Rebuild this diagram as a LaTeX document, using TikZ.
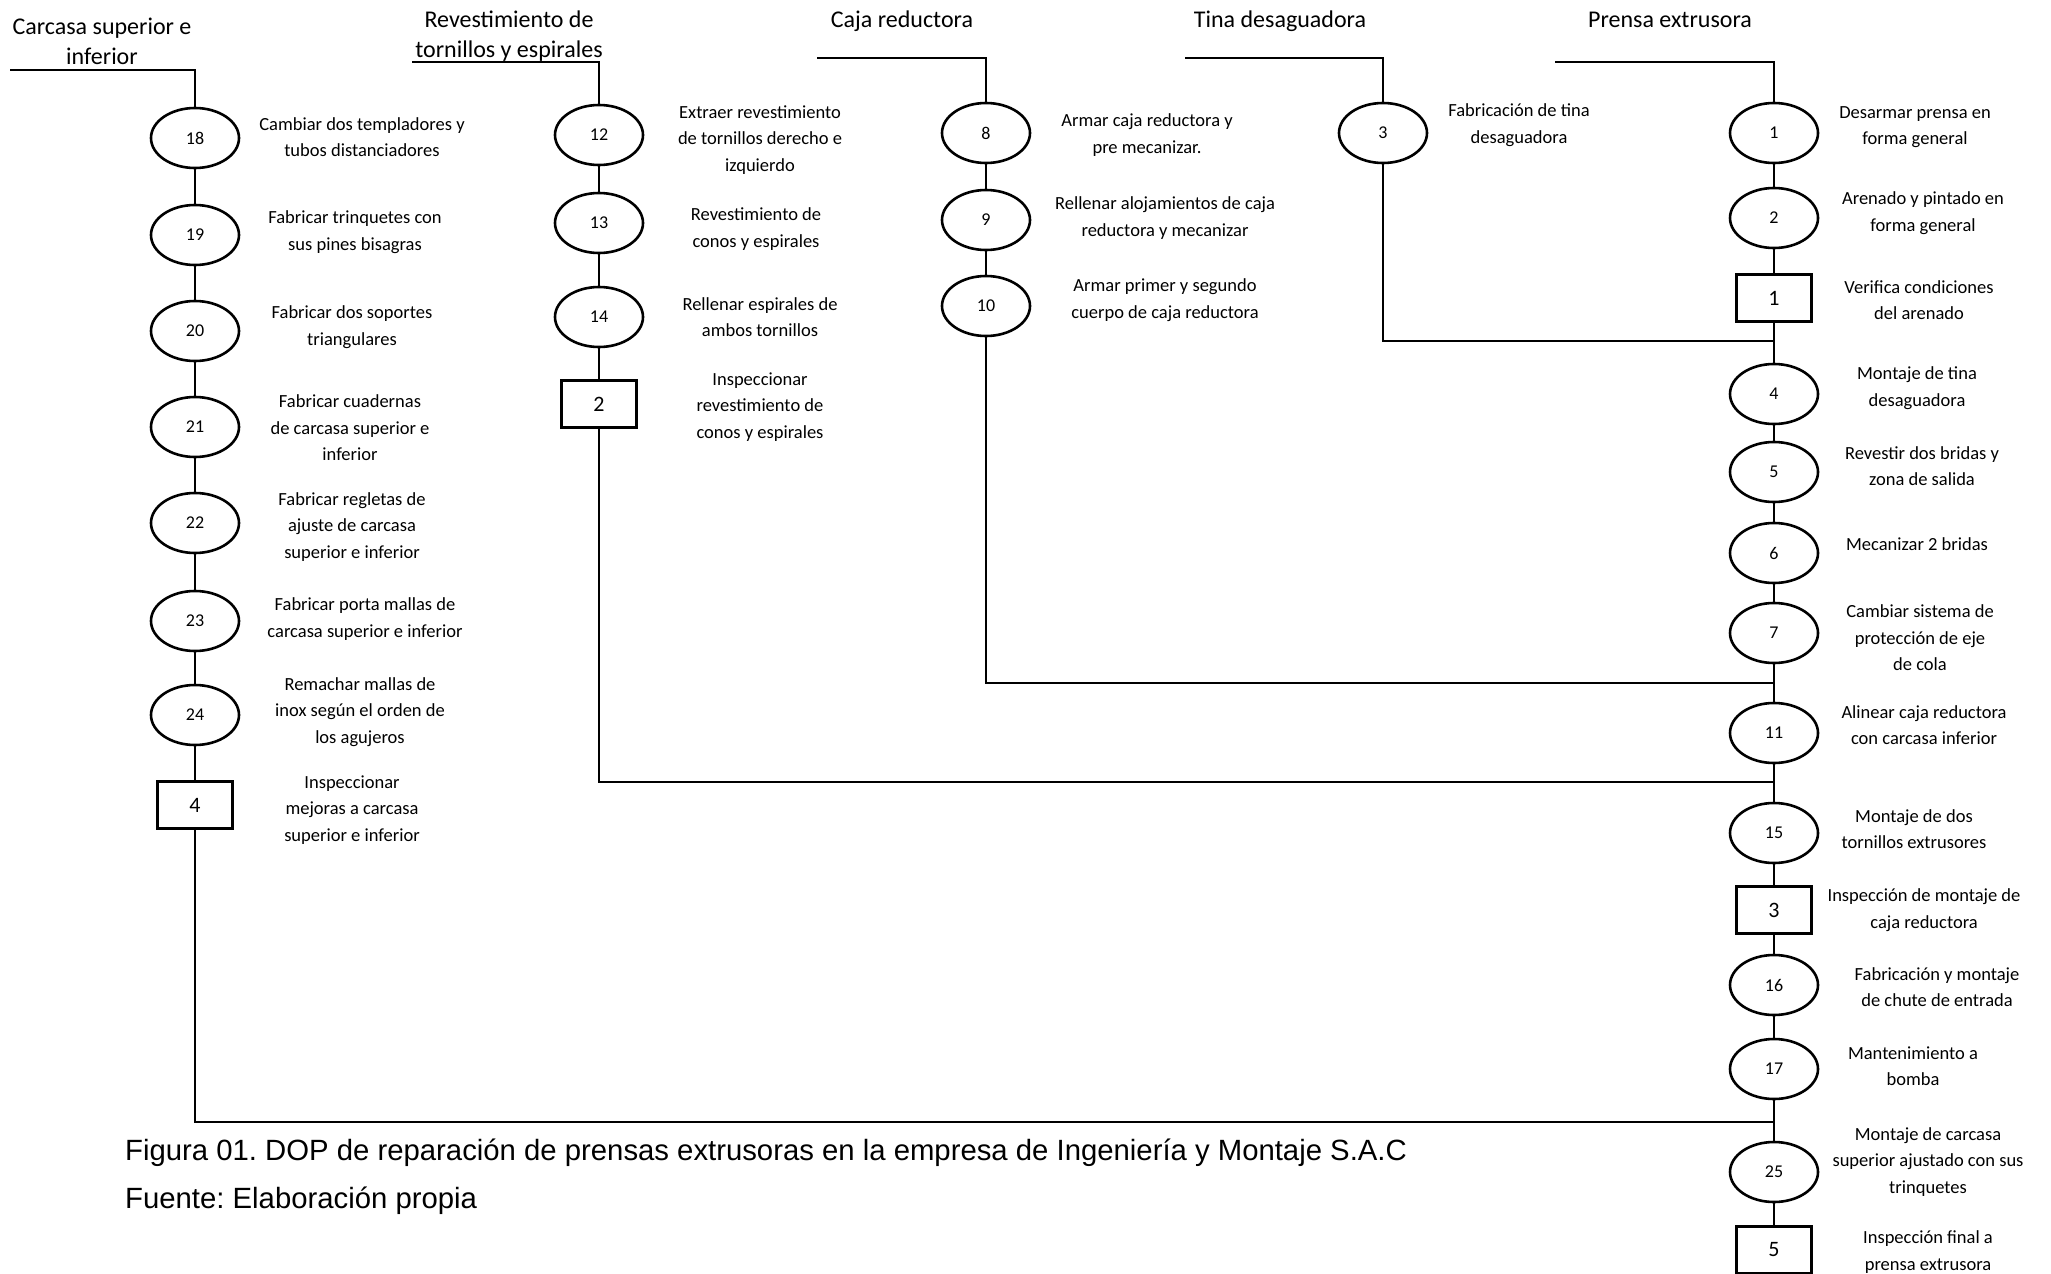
\documentclass[tikz,border=0pt]{standalone}
\usepackage{fontspec}
\setmainfont{Carlito}
\newfontfamily\capfont{Liberation Sans}
\usetikzlibrary{shapes.geometric,positioning}

\tikzset{
  op/.style={draw, ellipse, line width=2.6pt, minimum width=88pt, minimum height=60pt, inner sep=0pt, font=\fontsize{18}{22}\selectfont},
  insp/.style={draw, rectangle, line width=2.6pt, minimum width=75pt, minimum height=47pt, inner sep=0pt, font=\fontsize{22}{26}\selectfont},
  txt/.style={align=center, inner sep=0pt, font=\fontsize{18.5}{26.5}\selectfont},
  hdr/.style={align=center, inner sep=0pt, font=\fontsize{24}{30}\selectfont},
  wire/.style={line width=2.6pt},
  captxt/.style={anchor=base west, inner sep=0pt, font=\capfont\frenchspacing\fontsize{29.3}{34}\selectfont}
}

\begin{document}
\begin{tikzpicture}[x=1pt, y=-1pt]
    \useasboundingbox (0,0) rectangle (2051,1274);

    % headers
    \node[hdr] (ha) at (102,41) {Carcasa superior e\\inferior};
    \node[hdr] (hb) at (509,36) {Revestimiento de\\tornillos y espirales};
    \node[hdr] (hc) at (902,21) {Caja reductora};
    \node[hdr] (hd) at (1280,21) {Tina desaguadora};
    \node[hdr] (he) at (1670,20) {Prensa extrusora};

    % operations
    \foreach \n/\x/\y/\lx/\ly/\t in {
        18/195/138/362/137/{Cambiar dos templadores y\\tubos distanciadores},
        19/195/235/355/232/{Fabricar trinquetes con\\sus pines bisagras},
        20/195/331/352/327/{Fabricar dos soportes\\triangulares},
        21/195/427/350/428/{Fabricar cuadernas\\de carcasa superior e\\inferior},
        22/195/523/352/527/{Fabricar regletas de\\ajuste de carcasa\\superior e inferior},
        23/195/621/365/619/{Fabricar porta mallas de\\carcasa superior e inferior},
        24/195/715/360/712/{Remachar mallas de\\inox según el orden de\\los agujeros},
        12/599/135/760/140/{Extraer revestimiento\\de tornillos derecho e\\izquierdo},
        13/599/223/756/229/{Revestimiento de\\conos y espirales},
        14/599/317/760/317/{Rellenar espirales de\\ambos tornillos},
        8/986/133/1147/135/{Armar caja reductora y\\pre mecanizar.},
        9/986/220/1165/218/{Rellenar alojamientos de caja\\reductora y mecanizar},
        10/986/306/1165/300/{Armar primer y segundo\\cuerpo de caja reductora},
        3/1383/133/1519/125/{Fabricación de tina\\desaguadora},
        1/1774/133/1915/127/{Desarmar prensa en\\forma general},
        2/1774/218/1923/213/{Arenado y pintado en\\forma general},
        4/1774/394/1917/388/{Montaje de tina\\desaguadora},
        5/1774/472/1922/466/{Revestir dos bridas y\\zona de salida},
        6/1774/553/1917/544/{Mecanizar 2 bridas},
        7/1774/633/1920/638/{Cambiar sistema de\\protección de eje\\de cola},
        11/1774/733/1924/725/{Alinear caja reductora\\con carcasa inferior},
        15/1774/833/1914/829/{Montaje de dos\\tornillos extrusores},
        16/1774/985/1937/987/{Fabricación y montaje\\de chute de entrada},
        17/1774/1069/1913/1066/{Mantenimiento a\\bomba},
        25/1774/1172/1928/1162/{Montaje de carcasa\\superior ajustado con sus\\trinquetes}}
    {
        \node[op] (o\n) at (\x,\y) {\n};
        \node[txt] (t\n) at (\lx,\ly) {\t};
    }

    % inspections
    \foreach \n/\x/\y/\lx/\ly/\t in {
        1/1774/298/1919/300/{Verifica condiciones\\del arenado},
        2/599/404/760/407/{Inspeccionar\\revestimiento de\\conos y espirales},
        3/1774/910/1924/910/{Inspección de montaje de\\caja reductora},
        4/195/805/352/810/{Inspeccionar\\mejoras a carcasa\\superior e inferior},
        5/1774/1250/1928/1252/{Inspección final a\\prensa extrusora}}
    {
        \node[insp] (i\n) at (\x,\y) {\n};
        \node[txt] (ti\n) at (\lx,\ly) {\t};
    }

    % chains
    \foreach \u/\v in {o18/o19, o19/o20, o20/o21, o21/o22, o22/o23, o23/o24, o24/i4,
        o12/o13, o13/o14, o14/i2, o8/o9, o9/o10,
        o1/o2, o2/i1, i1/o4, o4/o5, o5/o6, o6/o7, o7/o11, o11/o15, o15/i3,
        i3/o16, o16/o17, o17/o25, o25/i5}
        \draw[wire] (\u) -- (\v);

    % header lines
    \coordinate (ka) at (10,70);
    \coordinate (kb) at (412,62);
    \coordinate (kc) at (817,58);
    \coordinate (kd) at (1185,58);
    \coordinate (ke) at (1555,62);
    \draw[wire] (ka) -| (o18);
    \draw[wire] (kb) -| (o12);
    \draw[wire] (kc) -| (o8);
    \draw[wire] (kd) -| (o3);
    \draw[wire] (ke) -| (o1);

    % joins into the main line
    \coordinate (jd) at (1774,341);
    \coordinate (jc) at (1774,683);
    \coordinate (jb) at (1774,782);
    \coordinate (ja) at (1774,1122);
    \draw[wire] (o3) |- (jd);
    \draw[wire] (o10) |- (jc);
    \draw[wire] (i2) |- (jb);
    \draw[wire] (i4) |- (ja);

    % caption
    \node[captxt] (cap) at (125,1160)
        {Figura 01. DOP de reparación de prensas extrusoras en la empresa de Ingeniería y Montaje S.A.C};
    \node[captxt] (src) at (125,1208) {Fuente: Elaboración propia};
\end{tikzpicture}
\end{document}
